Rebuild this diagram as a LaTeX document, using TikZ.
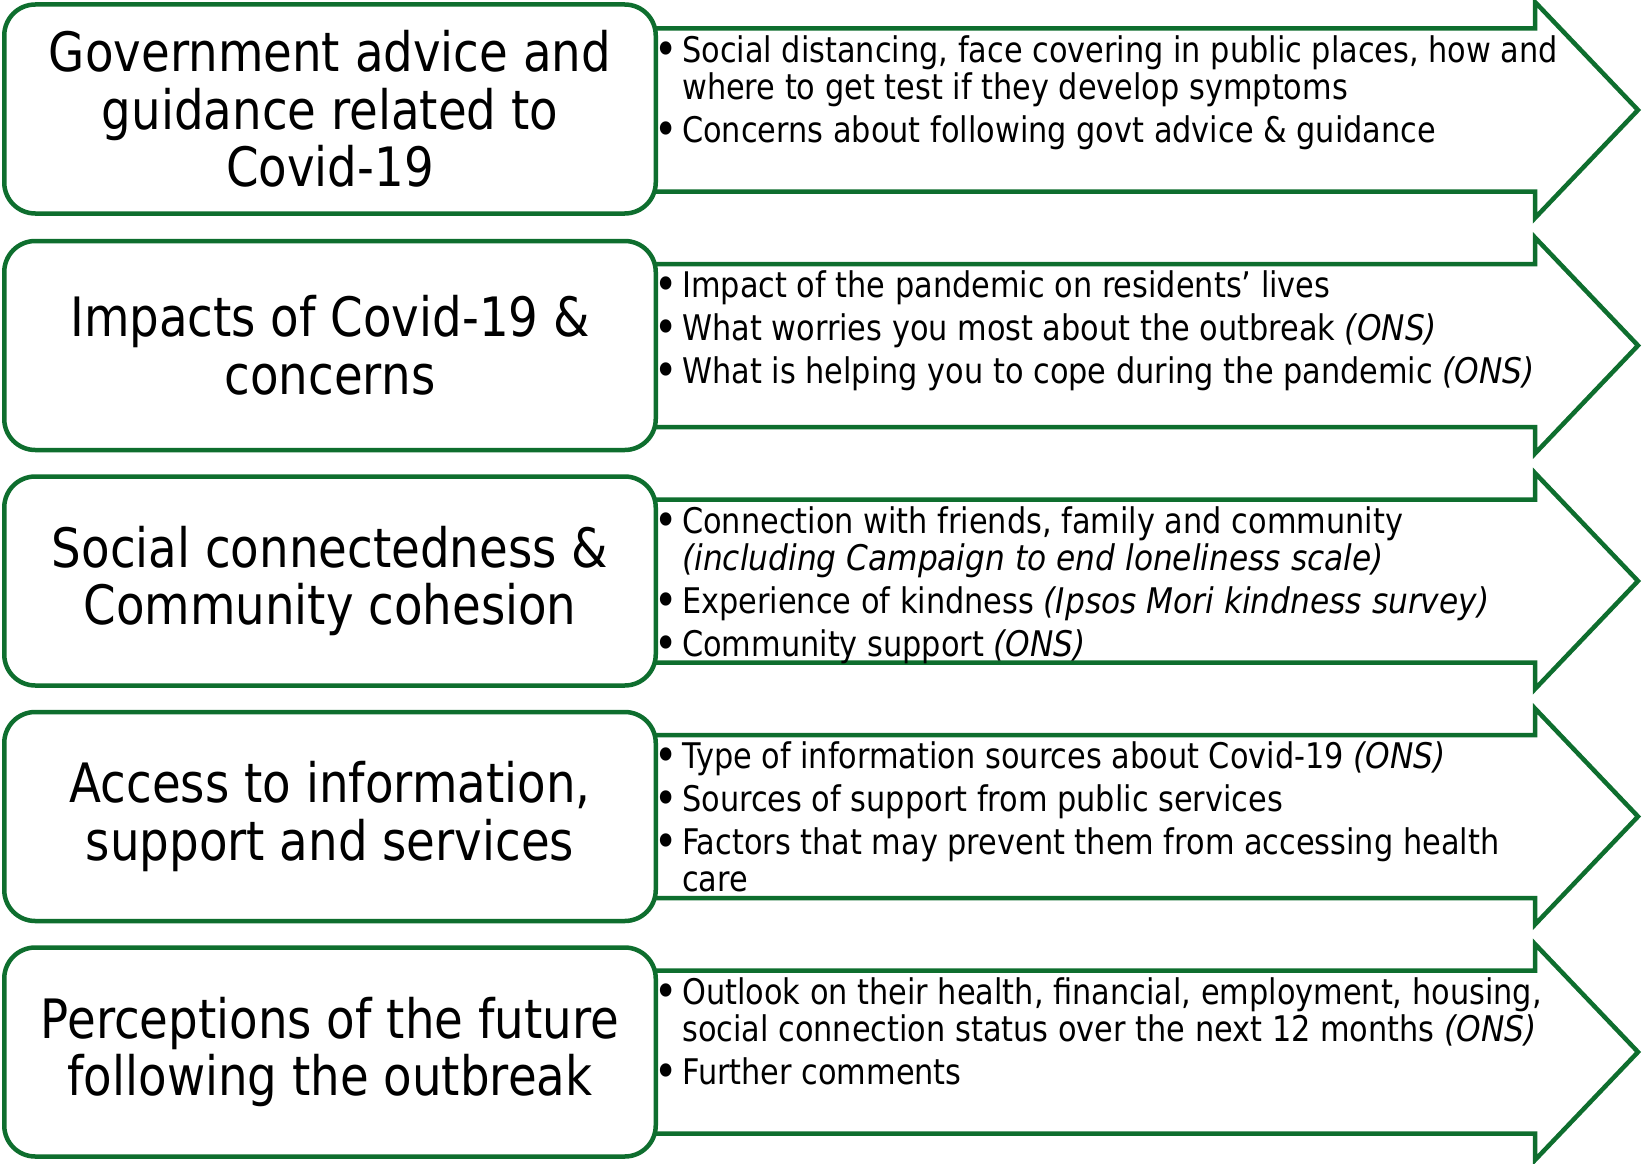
\documentclass[tikz,border=0pt]{standalone}
\usepackage{fontspec}
\setmainfont{DejaVu Sans}[FakeStretch=0.86, ItalicFeatures={FakeStretch=0.885}]
\usepackage{tikz}
\usetikzlibrary{positioning, calc}
\definecolor{frameGreen}{HTML}{0E6E2E}

\newcommand{\bul}{\makebox[32pt][c]{\raisebox{-3pt}{\scalebox{1.3}{\textbullet}}}}
\newcommand{\ind}{\hspace*{32pt}}

\begin{document}
\begin{tikzpicture}[
        x=1pt, y=-1pt, line join=miter,
        topic/.style={draw=frameGreen, fill=white, line width=4.5pt, rounded corners=31pt,
            minimum width=651.5pt, minimum height=209pt, inner sep=0pt, align=center,
            font=\fontsize{54.3}{57.5}\selectfont},
        band/.style={draw=frameGreen, fill=white, line width=4.5pt},
        items/.style={anchor=north west, inner sep=0pt, align=left,
            font=\fontsize{35.3}{37}\selectfont}]
        \useasboundingbox (0,0) rectangle (1644,1164);
        % arrow bands behind the topic boxes
        \draw[band] (640,28.5) -- (1535,28.5) -- (1535,2) -- (1638,110) -- (1535,218) -- (1535,191.5) -- (640,191.5) -- cycle;
        \draw[band] (640,264) -- (1535,264) -- (1535,237.5) -- (1638,345.5) -- (1535,453.5) -- (1535,427) -- (640,427) -- cycle;
        \draw[band] (640,499.5) -- (1535,499.5) -- (1535,473) -- (1638,581) -- (1535,689) -- (1535,662.5) -- (640,662.5) -- cycle;
        \draw[band] (640,735) -- (1535,735) -- (1535,708.5) -- (1638,816.5) -- (1535,924.5) -- (1535,898) -- (640,898) -- cycle;
        \draw[band] (640,970.5) -- (1535,970.5) -- (1535,944) -- (1638,1052) -- (1535,1160) -- (1535,1133.5) -- (640,1133.5) -- cycle;
        % topic boxes
        \node[topic] (gov)    at (330,109)    {Government advice and\\guidance related to\\Covid-19};
        \node[topic] (impact) at (330,345.5)  {Impacts of Covid-19 \&\\concerns};
        \node[topic] (social) at (330,581)    {Social connectedness \&\\Community cohesion};
        \node[topic] (access) at (330,816.5)  {Access to information,\\support and services};
        \node[topic] (future) at (330,1052)   {Perceptions of the future\\following the outbreak};
        % bullet texts
        \node[items] (govTxt) at (650,32) {\rule{0pt}{30pt}\bul Social distancing, face covering in public places, how and\\
              \ind where to get test if they develop symptoms\\[6pt]
              \bul Concerns about following govt advice \& guidance};
        \node[items] (impactTxt) at (650,267.5) {\rule{0pt}{30pt}\bul Impact of the pandemic on residents’ lives\\[6pt]
              \bul What worries you most about the outbreak \textit{(ONS)}\\[6pt]
              \bul What is helping you to cope during the pandemic \textit{(ONS)}};
        \node[items] (socialTxt) at (650,503) {\rule{0pt}{30pt}\bul Connection with friends, family and community\\
              \ind\textit{(including Campaign to end loneliness scale)}\\[6pt]
              \bul Experience of kindness \textit{(Ipsos Mori kindness survey)}\\[6pt]
              \bul Community support \textit{(ONS)}};
        \node[items] (accessTxt) at (650,738.5) {\rule{0pt}{30pt}\bul Type of information sources about Covid-19 \textit{(ONS)}\\[6pt]
              \bul Sources of support from public services\\[6pt]
              \bul Factors that may prevent them from accessing health\\
              \ind care};
        \node[items] (futureTxt) at (650,974) {\rule{0pt}{30pt}\bul Outlook on their health, financial, employment, housing,\\
              \ind social connection status over the next 12 months \textit{(ONS)}\\[6pt]
              \bul Further comments};
\end{tikzpicture}
\end{document}
